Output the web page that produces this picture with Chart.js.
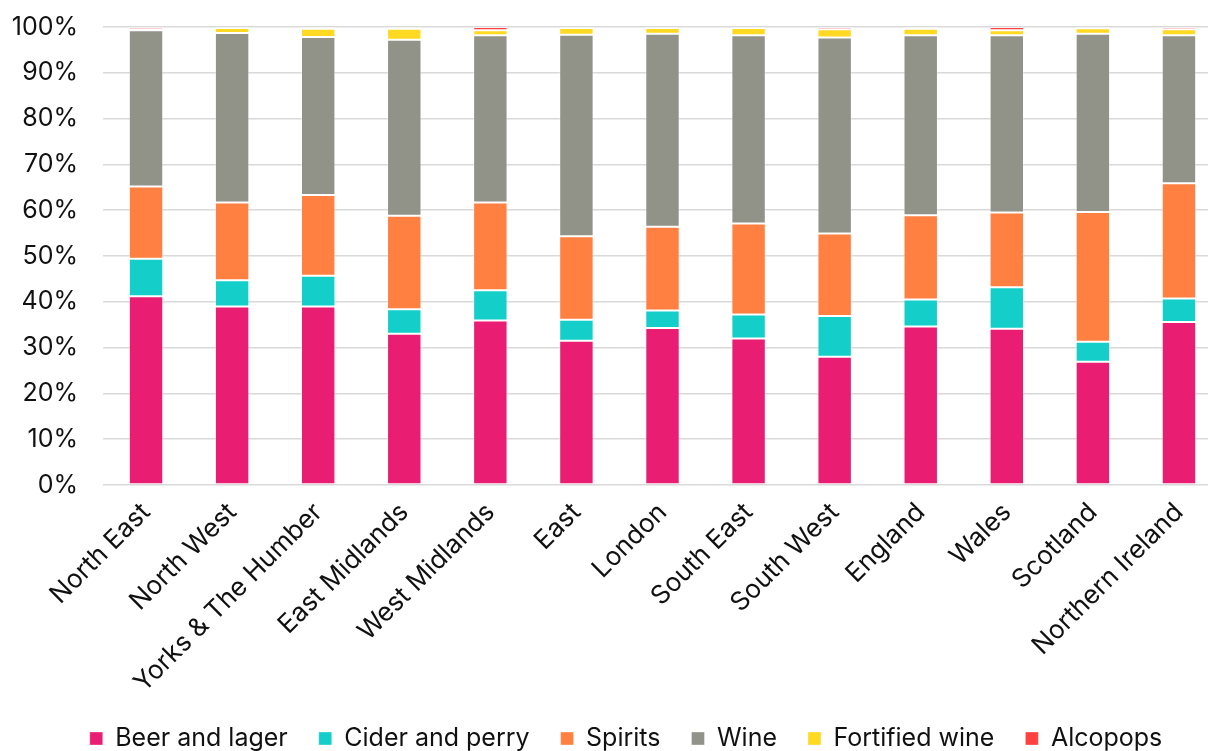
<!DOCTYPE html>
<html>
<head>
<meta charset="utf-8">
<script src="https://cdn.jsdelivr.net/npm/chart.js@4/dist/chart.umd.min.js"></script>
<style>
  html, body { margin: 0; padding: 0; overflow: hidden; background: #fff; }
  #wrap { width: 1222px; height: 766px; }
</style>
</head>
<body>
<div id="wrap"><canvas id="chart"></canvas></div>
<script>
// regions on the x axis
const regions = ['North East', 'North West', 'Yorks & The Humber', 'East Midlands', 'West Midlands',
  'East', 'London', 'South East', 'South West', 'England', 'Wales', 'Scotland', 'Northern Ireland'];

// share of alcohol sales, %
const beerAndLager  = [41.2, 39.0, 39.0, 33.0, 35.9, 31.5, 34.3, 32.0, 28.0, 34.6, 34.1, 26.9, 35.6];
const ciderAndPerry = [ 8.2,  5.7,  6.7,  5.4,  6.6,  4.6,  3.8,  5.2,  8.9,  5.9,  9.1,  4.4,  5.1];
const spirits       = [15.8, 17.0, 17.6, 20.4, 19.2, 18.2, 18.3, 19.9, 18.0, 18.4, 16.3, 28.3, 25.2];
const wine          = [34.1, 37.0, 34.5, 38.4, 36.5, 44.0, 42.1, 41.1, 42.8, 39.3, 38.7, 38.9, 32.3];
const fortifiedWine = [ 0.2,  1.1,  1.8,  2.4,  1.1,  1.5,  1.3,  1.6,  1.8,  1.4,  1.1,  1.2,  1.3];
const alcopops      = [ 0.5,  0.2,  0.4,  0.4,  0.7,  0.2,  0.2,  0.2,  0.5,  0.4,  0.7,  0.3,  0.5];

const yTicks = [0, 10, 20, 30, 40, 50, 60, 70, 80, 90, 100];

const textColor = '#111';

function series(label, data, color) {
  return {
    label: label,
    data: data,
    backgroundColor: color,
    borderColor: 'rgba(255,255,255,0.35)',
    borderWidth: 1,
    borderSkipped: false,
    categoryPercentage: 1,
    barPercentage: 0.4
  };
}

// nudge the legend to where it sits in the original
const legendShift = {
  id: 'legendShift',
  afterLayout(chart) {
    const lg = chart.legend;
    const dy = 695 - lg.top;
    lg.top += dy; lg.bottom += dy;
    lg.left += 15; lg.right += 15;
  }
};

new Chart(document.getElementById('chart'), {
  type: 'bar',
  data: {
    labels: regions,
    datasets: [
      series('Beer and lager', beerAndLager, '#E91E73'),
      series('Cider and perry', ciderAndPerry, '#14CFC9'),
      series('Spirits', spirits, '#FF8041'),
      series('Wine', wine, '#929388'),
      series('Fortified wine', fortifiedWine, '#FFD922'),
      series('Alcopops', alcopops, '#FF4040')
    ]
  },
  plugins: [legendShift],
  options: {
    responsive: true,
    maintainAspectRatio: false,
    animation: false,
    layout: { padding: { left: 0, right: 0, top: 27, bottom: 0 } },
    plugins: {
      tooltip: { enabled: false },
      legend: {
        position: 'bottom',
        labels: {
          font: { family: 'Inter', size: 25 },
          color: textColor,
          boxWidth: 13,
          boxHeight: 13,
          padding: 31
        }
      }
    },
    scales: {
      x: {
        stacked: true,
        grid: { display: false },
        border: { display: false },
        ticks: {
          font: { family: 'Inter', size: 26 },
          color: textColor,
          minRotation: 45,
          maxRotation: 45,
          padding: 4
        },
        afterFit: (scale) => { scale.height = 215; }
      },
      y: {
        stacked: true,
        min: 0,
        max: 100,
        afterBuildTicks: (scale) => { scale.ticks = yTicks.map(v => ({ value: v })); },
        afterFit: (scale) => { scale.width = 103; },
        grid: { color: '#d9d9d9', lineWidth: 1.5, drawTicks: true, tickLength: 25, tickColor: 'rgba(0,0,0,0)' },
        border: { display: false },
        ticks: {
          font: { family: 'Inter', size: 25 },
          color: textColor,
          padding: 0,
          callback: (v) => v + '%'
        }
      }
    }
  }
});
</script>
</body>
</html>
